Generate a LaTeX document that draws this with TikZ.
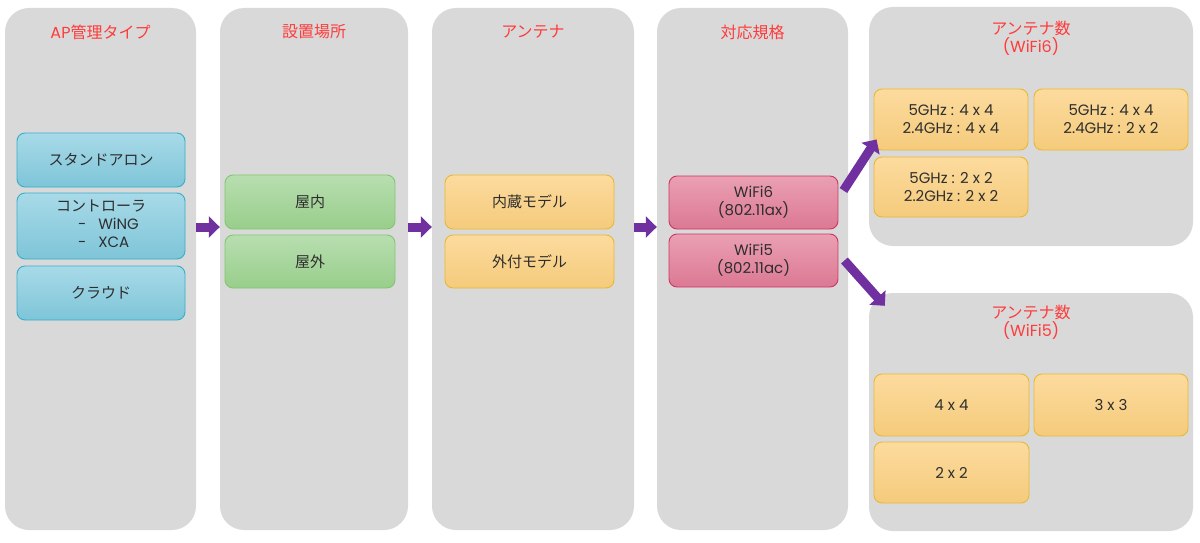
\documentclass[tikz,border=0pt]{standalone}
\usepackage{fontspec}
\setmainfont{Poppins}
\newfontfamily\jp{Noto Sans CJK JP}
\usetikzlibrary{arrows.meta}
\definecolor{colbg}{HTML}{D9D9D9}
\definecolor{ttl}{HTML}{FF3B3B}
\definecolor{txt}{HTML}{2E2E2E}
\definecolor{arr}{HTML}{7030A0}
\definecolor{bluetop}{HTML}{A8DAE8}
\definecolor{bluebot}{HTML}{7EC5D8}
\definecolor{blueln}{HTML}{35AECB}
\definecolor{greentop}{HTML}{B8DEB0}
\definecolor{greenbot}{HTML}{98CE8B}
\definecolor{greenln}{HTML}{82C670}
\definecolor{orgtop}{HTML}{FCDB9E}
\definecolor{orgbot}{HTML}{F5CB7C}
\definecolor{orgln}{HTML}{E8B832}
\definecolor{pinktop}{HTML}{EAA0B2}
\definecolor{pinkbot}{HTML}{DC7893}
\definecolor{pinkln}{HTML}{CC3565}
\tikzset{
  column/.style={fill=colbg, draw=none, rounded corners=24pt, inner sep=0pt},
  coltitle/.style={text=ttl, font=\fontsize{16}{18}\selectfont, align=center, inner sep=0pt},
  basebox/.style={rounded corners=8pt, line width=0.9pt, text=txt, align=center,
    font=\fontsize{15}{18}\selectfont, inner sep=0pt},
  bluebox/.style={basebox, top color=bluetop, bottom color=bluebot, draw=blueln},
  greenbox/.style={basebox, top color=greentop, bottom color=greenbot, draw=greenln},
  orgbox/.style={basebox, top color=orgtop, bottom color=orgbot, draw=orgln},
  pinkbox/.style={basebox, top color=pinktop, bottom color=pinkbot, draw=pinkln},
  bigarrow/.style={draw=arr, line width=9pt, -{Triangle[width=21pt,length=11pt]}, arr},
}
\begin{document}
\begin{tikzpicture}[x=1pt,y=-1pt]
\useasboundingbox (0,0) rectangle (1200,543);
% columns
\node[column, minimum width=191, minimum height=522] (col1) at (100.5,269) {};
\node[column, minimum width=188, minimum height=522] (col2) at (314,269) {};
\node[column, minimum width=202, minimum height=522] (col3) at (533,269) {};
\node[column, minimum width=191, minimum height=522] (col4) at (752.5,269) {};
\node[column, minimum width=324, minimum height=239] (pan6) at (1031,126.5) {};
\node[column, minimum width=324, minimum height=238] (pan5) at (1031,412) {};
% titles
\node[coltitle] (t1) at (100.5,32) {AP{\jp 管理タイプ}};
\node[coltitle] (t2) at (314,32) {\jp 設置場所};
\node[coltitle] (t3) at (533,32) {\jp アンテナ};
\node[coltitle] (t4) at (752.5,32) {\jp 対応規格};
\node[coltitle] (t6) at (1031,38) {{\jp アンテナ数}\\(WiFi6)};
\node[coltitle] (t5) at (1031,322.5) {{\jp アンテナ数}\\(WiFi5)};
% column 1
\node[bluebox, minimum width=168, minimum height=54] (sa) at (101,160) {\jp スタンドアロン};
\node[bluebox, minimum width=168, minimum height=66] (ctrl) at (101,226)
  {\begin{tabular}{@{}l@{}}\multicolumn{1}{@{}c@{}}{\jp コントローラ}\\\hspace*{22pt}-\hspace{12pt}WiNG\\\hspace*{22pt}-\hspace{12pt}XCA\end{tabular}};
\node[bluebox, minimum width=168, minimum height=54] (cloud) at (101,293) {\jp クラウド};
% column 2
\node[greenbox, minimum width=170, minimum height=54] (in) at (310,202) {\jp 屋内};
\node[greenbox, minimum width=170, minimum height=53] (out) at (310,261.5) {\jp 屋外};
% column 3
\node[orgbox, minimum width=169, minimum height=54] (bi) at (529.5,202) {\jp 内蔵モデル};
\node[orgbox, minimum width=169, minimum height=53] (ex) at (529.5,261.5) {\jp 外付モデル};
% column 4
\node[pinkbox, minimum width=169, minimum height=53] (w6) at (753.5,202.5) {WiFi6\\(802.11ax)};
\node[pinkbox, minimum width=169, minimum height=53] (w5) at (753.5,260.5) {WiFi5\\(802.11ac)};
% WiFi6 panel
\node[orgbox, minimum width=154, minimum height=61] (a6) at (951,119.5) {5GHz : 4 x 4\\2.4GHz : 4 x 4};
\node[orgbox, minimum width=154, minimum height=61] (b6) at (1111,119.5) {5GHz : 4 x 4\\2.4GHz : 2 x 2};
\node[orgbox, minimum width=154, minimum height=60] (c6) at (951,187) {5GHz : 2 x 2\\2.2GHz : 2 x 2};
% WiFi5 panel
\node[orgbox, minimum width=155, minimum height=62] (a5) at (951.5,405) {4 x 4};
\node[orgbox, minimum width=154, minimum height=62] (b5) at (1111,405) {3 x 3};
\node[orgbox, minimum width=155, minimum height=61] (c5) at (951.5,472.5) {2 x 2};
% arrows
\draw[bigarrow] ([yshift=42pt]col1.east) -- ([yshift=42pt]col2.west);
\draw[bigarrow] ([yshift=42pt]col2.east) -- ([yshift=42pt]col3.west);
\draw[bigarrow] ([yshift=42pt]col3.east) -- ([yshift=42pt]col4.west);
\draw[bigarrow] ([shift={(5pt,12pt)}]w6.east) -- ([shift={(3pt,11pt)}]a6.south west);
\draw[bigarrow] ([shift={(6pt,0pt)}]w5.east) -- ([shift={(16pt,-13pt)}]pan5.north west);
\end{tikzpicture}
\end{document}
